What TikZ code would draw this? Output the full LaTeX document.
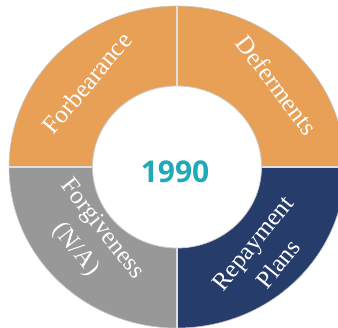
\documentclass[tikz,border=0pt]{standalone}
\usepackage{fontspec}
\setmainfont{Liberation Serif}
\newfontfamily\yearfont{Open Sans}
\usepackage{tikz}

\definecolor{ringorange}{RGB}{232,160,86}
\definecolor{ringgray}{RGB}{152,152,152}
\definecolor{ringnavy}{RGB}{38,60,106}
\definecolor{yearteal}{RGB}{32,170,184}

\begin{document}
\begin{tikzpicture}[x=1pt, y=1pt]
\tikzset{
  quadrant label/.style={text=white, font=\fontsize{25}{33}\selectfont, align=center, inner sep=0pt},
  divider/.style={draw=gray!25, line width=1.5pt}
}
\useasboundingbox (0,0) rectangle (338,328);
\begin{scope}[shift={(177,161)}, xscale=1.043]
  \foreach \start/\col in {0/ringorange, 90/ringorange, 180/ringgray, 270/ringnavy}
    \fill[\col] (0,0) -- (\start:161) arc[start angle=\start, delta angle=90, radius=161] -- cycle;
  \draw[gray!45, line width=0.6pt] (0,0) circle[radius=161];
  \draw[divider] (90:161) -- (270:161) (0:161) -- (180:161);
  \filldraw[fill=white, draw=gray!40, line width=0.8pt] (0,0) circle[radius=81];
\end{scope}
\node[quadrant label, rotate=50] (forbearance) at (87,245) {Forbearance};
\node[quadrant label, rotate=-53] (deferments) at (277,243) {Deferments};
\node[quadrant label, rotate=-52] (forgiveness) at (88.5,88.5) {Forgiveness\\(N/A)};
\node[quadrant label, rotate=51] (repayment) at (265.5,74.5) {Repayment\\Plans};
\node[text=yearteal, font=\yearfont\bfseries\fontsize{30}{32}\selectfont] (year) at (175,156) {1990};
\end{tikzpicture}
\end{document}
